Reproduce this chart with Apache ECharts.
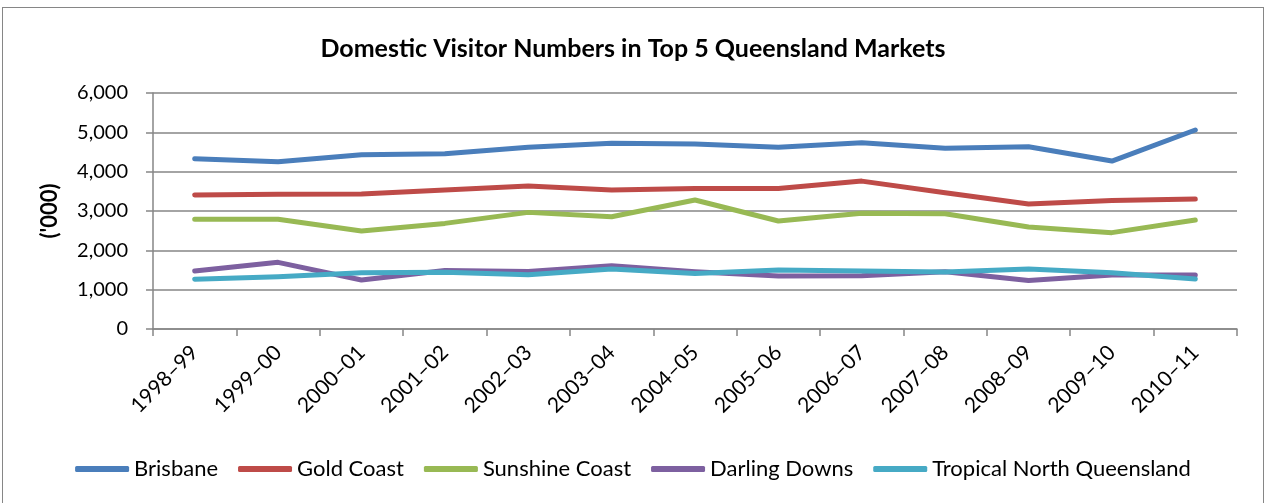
<!DOCTYPE html>
<html><head><meta charset="utf-8">
<script src="https://cdn.jsdelivr.net/npm/echarts@6/dist/echarts.min.js"></script>
<style>
html,body{margin:0;padding:0;background:#fff;}
#frame{position:absolute;left:2px;top:7px;width:1262px;height:510px;border:1px solid #868686;box-sizing:border-box;}
#c{position:absolute;left:0;top:0;width:1266px;height:503px;}
</style></head>
<body><div id="frame"></div><div id="c"></div>
<script>
const categories = ['1998–99','1999–00','2000–01','2001–02','2002–03','2003–04','2004–05','2005–06','2006–07','2007–08','2008–09','2009–10','2010–11'];
const brisbane = [4330,4255,4430,4455,4620,4720,4705,4620,4735,4595,4635,4270,5060];
const goldCoast = [3405,3425,3430,3535,3635,3535,3570,3570,3760,3465,3180,3270,3305];
const sunshineCoast = [2790,2790,2490,2685,2965,2855,3280,2745,2940,2930,2595,2450,2770];
const darlingDowns = [1475,1695,1245,1485,1460,1610,1455,1345,1355,1455,1235,1375,1375];
const tropicalNQ = [1265,1330,1430,1440,1380,1525,1410,1500,1475,1450,1525,1430,1270];
const yTicks = [0,1000,2000,3000,4000,5000,6000];

const colors = ['#4A7EBB','#BE4B48','#98B954','#7D60A0','#46AAC5'];
const names = ['Brisbane','Gold Coast','Sunshine Coast','Darling Downs','Tropical North Queensland'];
const data = [brisbane, goldCoast, sunshineCoast, darlingDowns, tropicalNQ];
const font = 'Lato, "Open Sans", sans-serif';

const chart = echarts.init(document.getElementById('c'));
chart.setOption({
  animation:false,
  backgroundColor:'transparent',
  color: colors,
  title:{text:'Domestic Visitor Numbers in Top 5 Queensland Markets',left:'center',top:31,
    textStyle:{fontFamily:font,fontWeight:'bold',fontSize:25,color:'#000'}},
  grid:{left:153,right:29,top:93,bottom:174},
  legend:{top:453,left:'center',itemWidth:54,itemHeight:6,itemGap:20,icon:'roundRect',
    textStyle:{fontFamily:font,fontSize:22,color:'#000'},data:names},
  xAxis:{type:'category',data:categories,boundaryGap:true,
    axisLine:{lineStyle:{color:'#868686',width:1.5}},
    axisTick:{show:true,length:7,lineStyle:{color:'#868686',width:1.5}},
    axisLabel:{rotate:45,fontFamily:font,fontSize:21,color:'#000',margin:20,interval:0}},
  yAxis:{type:'value',min:yTicks[0],max:yTicks[yTicks.length-1],interval:1000,
    name:"('000)",nameLocation:'middle',nameGap:92,nameRotate:90,
    nameTextStyle:{fontFamily:font,fontWeight:'bold',fontSize:22,color:'#000'},
    axisLine:{show:true,lineStyle:{color:'#868686',width:1.5}},
    axisTick:{show:true,length:7,lineStyle:{color:'#868686',width:1.5}},
    splitLine:{lineStyle:{color:'#868686',width:1.5}},
    axisLabel:{fontFamily:font,fontSize:20,color:'#000',margin:25,
      formatter:v=>v.toLocaleString('en-US')}},
  series: names.map((n,i)=>({name:n,type:'line',data:data[i],symbol:'none',
    lineStyle:{width:5,color:colors[i],cap:'round',join:'round'}}))
});
</script></body></html>
